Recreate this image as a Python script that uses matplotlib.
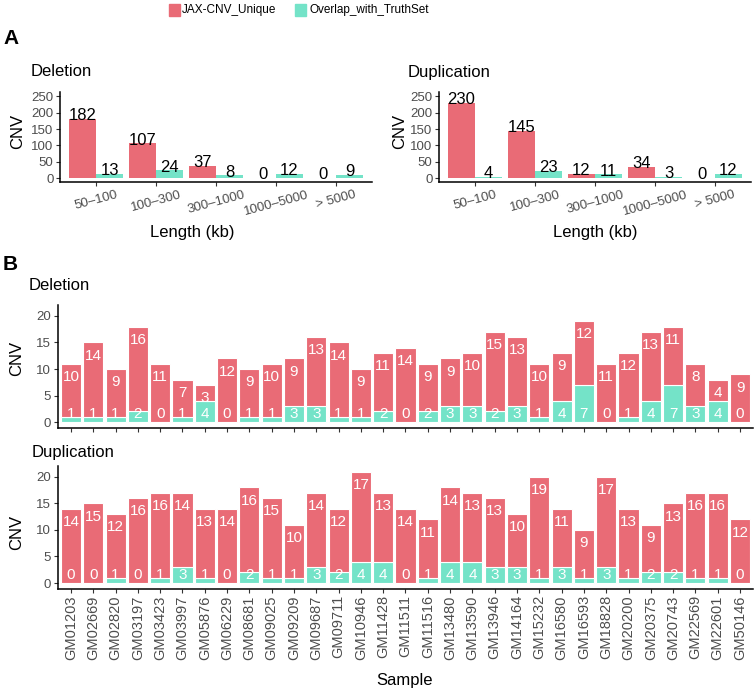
"""
JAX-CNV unique calls vs. overlap with truth set
A: counts by length bin, B: counts per sample
"""
import matplotlib

matplotlib.use("Agg")
import matplotlib.pyplot as plt
from matplotlib.patches import Rectangle

plt.rcParams["font.family"] = ["Liberation Sans", "DejaVu Sans"]

RED = "#E96B76"
TEAL = "#74E3C8"
TICK_GREY = "#4D4D4D"

# --------------------------------------------------------------------------- #
# DATA                                                                        #
# --------------------------------------------------------------------------- #
size_bins = ["50–100", "100–300", "300–1000", "1000–5000", "> 5000"]
del_unique_by_size = [182, 107, 37, 0, 0]
del_overlap_by_size = [13, 24, 8, 12, 9]
dup_unique_by_size = [230, 145, 12, 34, 0]
dup_overlap_by_size = [4, 23, 11, 3, 12]

samples = [
    "GM01203", "GM02669", "GM02820", "GM03197", "GM03423", "GM03997", "GM05876",
    "GM06229", "GM08681", "GM09025", "GM09209", "GM09687", "GM09711", "GM10946",
    "GM11428", "GM11511", "GM11516", "GM13480", "GM13590", "GM13946", "GM14164",
    "GM15232", "GM16580", "GM16593", "GM18828", "GM20200", "GM20375", "GM20743",
    "GM22569", "GM22601", "GM50146",
]
del_unique = [10, 14, 9, 16, 11, 7, 3, 12, 9, 10, 9, 13, 14, 9, 11, 14, 9, 9, 10,
              15, 13, 10, 9, 12, 11, 12, 13, 11, 8, 4, 9]
del_overlap = [1, 1, 1, 2, 0, 1, 4, 0, 1, 1, 3, 3, 1, 1, 2, 0, 2, 3, 3, 2, 3, 1,
               4, 7, 0, 1, 4, 7, 3, 4, 0]
dup_unique = [14, 15, 12, 16, 16, 14, 13, 14, 16, 15, 10, 14, 12, 17, 13, 14, 11,
              14, 13, 13, 10, 19, 11, 9, 17, 13, 9, 13, 16, 16, 12]
dup_overlap = [0, 0, 1, 0, 1, 3, 1, 0, 2, 1, 1, 3, 2, 4, 4, 0, 1, 4, 4, 3, 3, 1,
               3, 1, 3, 1, 2, 2, 1, 1, 0]

W, H = 756, 693


def px_axes(fig, left, top, right, bottom):
    return fig.add_axes([left / W, 1 - bottom / H, (right - left) / W, (bottom - top) / H])


def style_axes(ax):
    for s in ("top", "right"):
        ax.spines[s].set_visible(False)
    for s in ("left", "bottom"):
        ax.spines[s].set_linewidth(1.1)
        ax.spines[s].set_color("black")
    ax.tick_params(length=2.75, width=0.8, color="#333333", labelcolor=TICK_GREY,
                   labelsize=9.5, pad=2)


# --------------------------------------------------------------------------- #
# PANEL A                                                                     #
# --------------------------------------------------------------------------- #
def size_panel(ax, unique, overlap):
    xs = list(range(1, len(size_bins) + 1))
    ax.bar([x - 0.225 for x in xs], unique, width=0.45, color=RED)
    ax.bar([x + 0.225 for x in xs], overlap, width=0.45, color=TEAL)
    for x, u, o in zip(xs, unique, overlap):
        ax.annotate(str(u), (x - 0.225, u), xytext=(0, -1), textcoords="offset points",
                    ha="center", va="baseline", fontsize=12)
        ax.annotate(str(o), (x + 0.225, o), xytext=(0, -1), textcoords="offset points",
                    ha="center", va="baseline", fontsize=12)
    ax.set_xlim(0.4, 5.6)
    ax.set_ylim(-12.5, 262.5)
    ax.set_yticks([0, 50, 100, 150, 200, 250])
    ax.set_xticks(xs)
    ax.set_xticklabels(size_bins, rotation=15, ha="center")
    style_axes(ax)


# --------------------------------------------------------------------------- #
# PANEL B                                                                     #
# --------------------------------------------------------------------------- #
def sample_panel(ax, unique, overlap, show_names):
    xs = list(range(1, len(samples) + 1))
    totals = [u + o for u, o in zip(unique, overlap)]
    ax.bar(xs, overlap, width=0.9, color=TEAL, edgecolor="white", linewidth=0.8)
    ax.bar(xs, unique, bottom=overlap, width=0.9, color=RED, edgecolor="white",
           linewidth=0.8)
    for x, u, o, t in zip(xs, unique, overlap, totals):
        ax.annotate(str(u), (x, t), xytext=(0, -12.4), textcoords="offset points",
                    ha="center", va="baseline", fontsize=11, color="white")
        ax.annotate(str(o), (x, 0), xytext=(0, 3.2), textcoords="offset points",
                    ha="center", va="baseline", fontsize=11, color="white")
    ax.set_xlim(0.4, len(samples) + 0.6)
    ax.set_ylim(-1.05, 22.05)
    ax.set_yticks([0, 5, 10, 15, 20])
    ax.set_xticks(xs)
    if show_names:
        ax.set_xticklabels(samples, rotation=90)
    else:
        ax.set_xticklabels([])
    style_axes(ax)
    ax.tick_params(axis="x", labelsize=10.5)


def main():
    fig = plt.figure(figsize=(W / 100, H / 100), dpi=100)

    # legend
    fig.patches.append(Rectangle((169 / W, 1 - 16 / H), 11 / W, 12 / H,
                                 transform=fig.transFigure, color=RED))
    fig.text(182 / W, 1 - 10 / H, "JAX-CNV_Unique", fontsize=8.5, va="center")
    fig.patches.append(Rectangle((295 / W, 1 - 16 / H), 11 / W, 12 / H,
                                 transform=fig.transFigure, color=TEAL))
    fig.text(309 / W, 1 - 10 / H, "Overlap_with_TruthSet", fontsize=8.5, va="center")

    fig.text(3 / W, 1 - 39 / H, "A", fontsize=15, fontweight="bold", va="center")
    fig.text(3 / W, 1 - 264 / H, "B", fontsize=15, fontweight="bold", va="center")

    ax1 = px_axes(fig, 60, 92.4, 372, 182.1)
    size_panel(ax1, del_unique_by_size, del_overlap_by_size)
    ax2 = px_axes(fig, 439, 92.4, 751, 182.1)
    size_panel(ax2, dup_unique_by_size, dup_overlap_by_size)

    fig.text(31 / W, 1 - 72 / H, "Deletion", fontsize=12, va="center")
    fig.text(408 / W, 1 - 72 / H, "Duplication", fontsize=12, va="center")
    for x in (18, 400):
        fig.text(x / W, 1 - 131 / H, "CNV", fontsize=12, rotation=90,
                 ha="center", va="center")
    fig.text(192 / W, 1 - 233 / H, "Length (kb)", fontsize=12, ha="center", va="center")
    fig.text(595 / W, 1 - 233 / H, "Length (kb)", fontsize=12, ha="center", va="center")

    ax3 = px_axes(fig, 57.6, 305.1, 753.4, 427.6)
    sample_panel(ax3, del_unique, del_overlap, show_names=False)
    ax4 = px_axes(fig, 57.6, 466, 753.4, 588.6)
    sample_panel(ax4, dup_unique, dup_overlap, show_names=True)

    fig.text(29 / W, 1 - 286 / H, "Deletion", fontsize=12, va="center")
    fig.text(32 / W, 1 - 452 / H, "Duplication", fontsize=12, va="center")
    fig.text(17 / W, 1 - 358 / H, "CNV", fontsize=12, rotation=90, ha="center", va="center")
    fig.text(17 / W, 1 - 532 / H, "CNV", fontsize=12, rotation=90, ha="center", va="center")
    fig.text(405 / W, 1 - 681 / H, "Sample", fontsize=12, ha="center", va="center")

    fig.savefig("out.png", dpi=100)
    plt.close(fig)


if __name__ == "__main__":
    main()
